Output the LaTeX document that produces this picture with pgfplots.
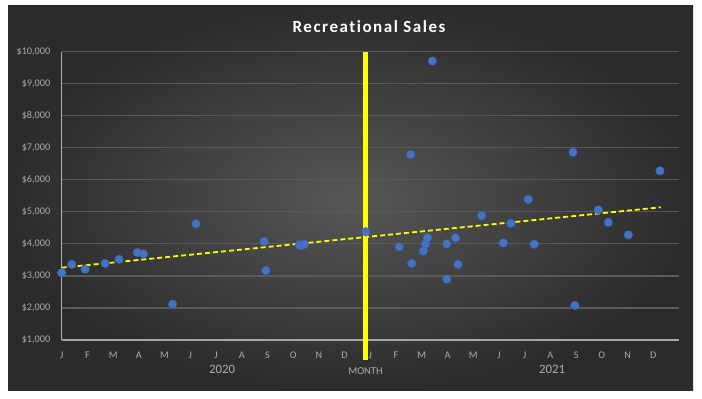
\documentclass[border=0pt]{standalone}
\usepackage{pgfplots}
\pgfplotsset{compat=1.18}
\usepackage{fontspec}
\setmainfont{Carlito}
\newfontfamily\titlefont{Carlito}[LetterSpace=9,Ligatures=NoCommon]
\definecolor{bgin}{HTML}{575757}
\definecolor{bgout}{HTML}{2B2B2B}
\definecolor{gridc}{HTML}{5A5A5A}
\definecolor{lblc}{HTML}{ADADAD}
\definecolor{dotc}{HTML}{4472C4}
\definecolor{dotd}{HTML}{3A63AE}
\definecolor{ylw}{HTML}{FFFF00}
\begin{document}
\begin{tikzpicture}
\fill[white] (0pt,0pt) rectangle (702pt,399pt);
\shade[inner color=bgin, outer color=bgout] (8pt,8pt) rectangle (693pt,393pt);
\node[text=white, font=\fontsize{17}{20}\titlefont\bfseries] at (369pt,372pt) {Recreational Sales};
\begin{axis}[
  at={(61.7pt,59pt)}, anchor=south west,
  scale only axis, width=617.3pt, height=288.3pt,
  xmin=0, xmax=24, ymin=1000, ymax=10000,
  scaled y ticks=false,
  ytick={1000,2000,...,10000},
  yticklabels={\$1{,}000,\$2{,}000,\$3{,}000,\$4{,}000,\$5{,}000,\$6{,}000,\$7{,}000,\$8{,}000,\$9{,}000,\$10{,}000},
  xtick={0,1,...,23},
  xticklabels={J,F,M,A,M,J,J,A,S,O,N,D,J,F,M,A,M,J,J,A,S,O,N,D},
  major tick length=0pt,
  ymajorgrids,
  major grid style={draw=gridc, line width=1.2pt},
  axis x line*=bottom, axis y line*=left,
  x axis line style={-, draw=gray!70, line width=1.5pt},
  y axis line style={-, draw=gray!60, line width=0.8pt},
  ticklabel style={text=lblc, font=\fontsize{10.2}{12}\selectfont},
  yticklabel style={xshift=-8pt},
  xticklabel style={yshift=-8pt},
  clip=false,
]
\addplot[ylw, line width=1.8pt, dash pattern=on 5pt off 3pt] coordinates {(0,3257) (23.29,5143)};
\addplot[only marks, mark=*, mark size=4.3pt, mark options={fill=dotc, draw=dotd, line width=0.4pt}] table {
x y
0.00 3100
0.39 3360
0.91 3210
1.69 3390
2.23 3520
2.94 3730
3.18 3690
4.31 2120
5.22 4630
7.87 4080
7.94 3170
9.24 3970
9.32 3950
9.44 3990
11.82 4380
13.12 3910
13.57 6790
13.61 3390
14.06 3780
14.15 4000
14.22 4190
14.41 9710
14.97 4000
14.97 2900
15.31 4190
15.41 3360
16.33 4880
17.17 4030
17.46 4640
18.14 5390
18.37 3990
19.88 6860
19.95 2080
20.86 5060
21.25 4670
22.03 4280
23.26 6280
};
\addplot[ylw, line width=4.3pt] coordinates {(11.81,10000) (11.81,376)};
\node[text=lblc, font=\fontsize{12.8}{14}\selectfont] at (axis cs:6.24,1000) [yshift=-29pt] {2020};
\node[text=lblc, font=\fontsize{12.8}{14}\selectfont] at (axis cs:19.07,1000) [yshift=-29pt] {2021};
\node[text=lblc, font=\fontsize{10.5}{12}\selectfont] at (axis cs:11.81,1000) [yshift=-30.7pt] {MONTH};
\end{axis}
\end{tikzpicture}
\end{document}
